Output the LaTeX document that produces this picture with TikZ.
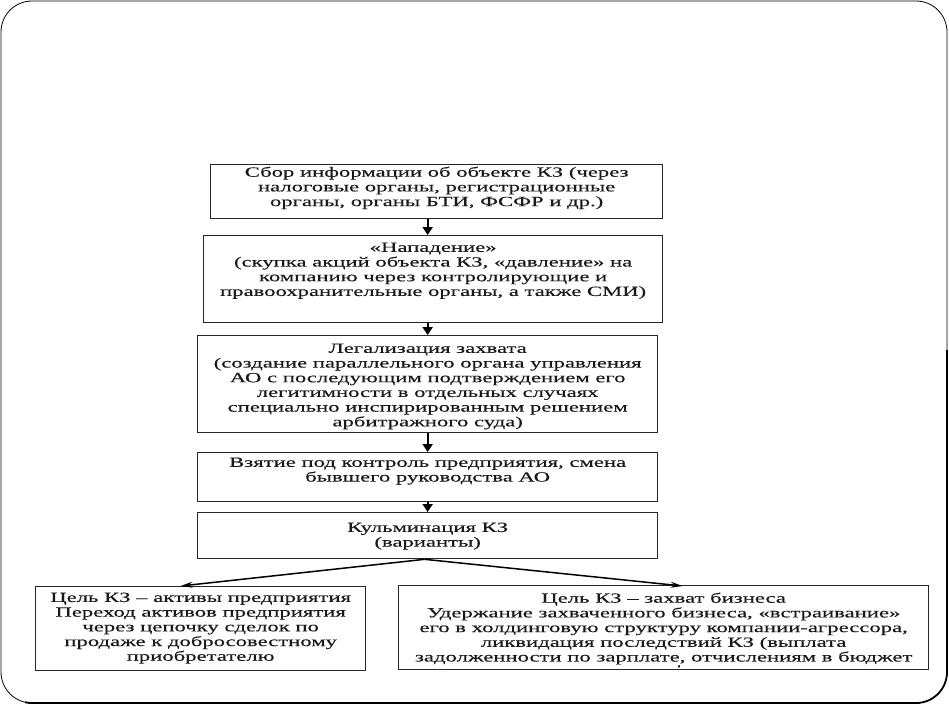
\documentclass[tikz,border=0pt]{standalone}
\usepackage{fontspec}
\setmainfont{Liberation Serif}[FakeStretch=1.62,FakeBold=0.3]
\usetikzlibrary{arrows.meta,calc}
\newcommand\boxtext[4]{\parbox[c][#2][t]{#1}{\centering\vspace*{#3}#4\par}}
\begin{document}
\begin{tikzpicture}[x=1pt,y=-1pt,
  box/.style={draw=black!85, line width=1.3pt, inner sep=0pt, anchor=north west,
    font=\fontsize{14pt}{14.7pt}\selectfont, text=black!90},
  varrow/.style={line width=2pt, -{Triangle[width=10pt,length=8pt]}},
  barrow/.style={line width=1.5pt, -{Stealth[width=6pt,length=12pt]}}]
\useasboundingbox (0,0) rectangle (949,705);
% slide frame
\draw[line width=0.8pt, rounded corners=31pt] (1,1) rectangle (947,703);
\begin{scope}
  \clip (25,660) -- (900,660) -- (900,350) -- (949,350) -- (949,705) -- (25,705) -- cycle;
  \draw[line width=1.8pt, rounded corners=31pt] (1,1) rectangle (947,703);
\end{scope}
% boxes
\node[box] (b1) at (210,164) {\boxtext{452pt}{54pt}{2pt}{Сбор информации об объекте КЗ (через\\налоговые органы, регистрационные\\органы, органы БТИ, ФСФР и др.)}};
\node[box] (b2) at (203,235) {\boxtext{459pt}{87pt}{7pt}{«Нападение»\\(скупка акций объекта КЗ, «давление» на\\компанию через контролирующие и\\правоохранительные органы, а также СМИ)}};
\node[box] (b3) at (197,335) {\boxtext{460pt}{97pt}{8pt}{Легализация захвата\\(создание параллельного органа управления\\АО с последующим подтверждением его\\легитимности в отдельных случаях\\специально инспирированным решением\\арбитражного суда)}};
\node[box] (b4) at (197,452) {\boxtext{460pt}{49pt}{5pt}{Взятие под контроль предприятия, смена\\бывшего руководства АО}};
\node[box] (b5) at (197,512) {\boxtext{460pt}{46pt}{10pt}{Кульминация КЗ\\(варианты)}};
\node[box] (lb) at (35,586) {\boxtext{330pt}{84pt}{6pt}{Цель КЗ – активы предприятия\\Переход активов предприятия\\через цепочку сделок по\\продаже к добросовестному\\приобретателю}};
\node[box] (rb) at (398,585) {\boxtext{530pt}{84pt}{7pt}{Цель КЗ – захват бизнеса\\Удержание захваченного бизнеса, «встраивание»\\его в холдинговую структуру компании-агрессора,\\ликвидация последствий КЗ (выплата\\задолженности по зарплате, отчислениям в бюджет}};
\node[font=\fontsize{9pt}{9pt}\selectfont, inner sep=0pt] (tick) at (679,668) {`};
% vertical arrows
\draw[varrow] (b1.south -| b3.north) -- (b2.north -| b3.north);
\draw[varrow] (b2.south -| b3.north) -- (b3.north);
\draw[varrow] (b3.south) -- (b4.north);
\draw[varrow] (b4.south) -- (b5.north);
% branch arrows
\draw[barrow] ($(b5.south)+(-3,0)$) -- ($(lb.north)+(-20,0)$);
\draw[barrow] ($(b5.south)+(-3,0)$) -- ($(rb.north)+(19,1)$);
\end{tikzpicture}
\end{document}
